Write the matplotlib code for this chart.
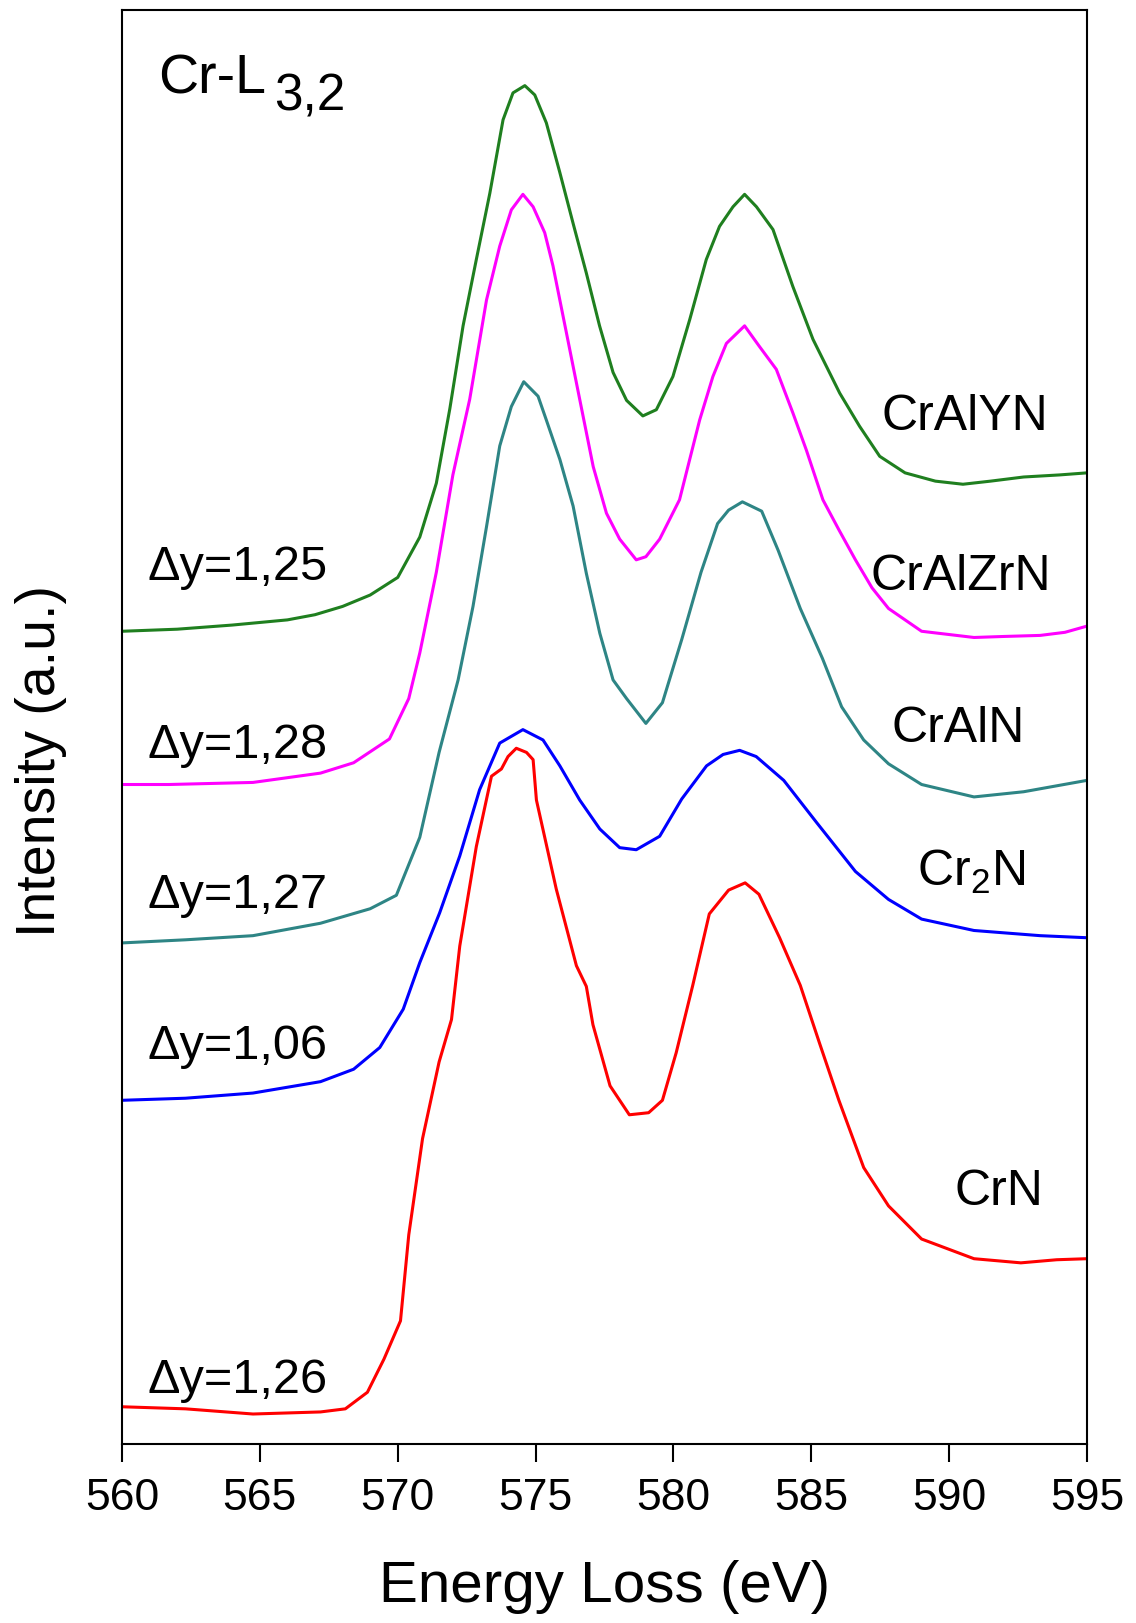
import matplotlib
matplotlib.use('Agg')
import matplotlib.pyplot as plt

plt.rcParams['font.family'] = ['Liberation Sans', 'DejaVu Sans']
plt.rcParams['mathtext.fontset'] = 'custom'
plt.rcParams['mathtext.rm'] = 'Liberation Sans'

# Spectra (energy in eV, stacked intensity in a.u.)
e_cralyn = [560, 562, 564, 566, 567, 568, 569, 570, 570.8, 571.4, 571.89, 572.37, 572.85, 573.34,
            573.82, 574.18, 574.61, 574.97, 575.39, 575.88, 576.36, 576.84, 577.32, 577.81, 578.3,
            578.89, 579.38, 579.98, 580.59, 581.19, 581.67, 582.16, 582.58, 583.01, 583.61, 584.33,
            585.06, 586.03, 586.75, 587.48, 588.4, 589.5, 590.5, 591.5, 592.7, 594, 595]
i_cralyn = [7.85, 7.87, 7.91, 7.96, 8.01, 8.09, 8.20, 8.37, 8.76, 9.28, 10.0, 10.80, 11.44, 12.08,
            12.79, 13.05, 13.12, 13.03, 12.76, 12.28, 11.79, 11.31, 10.80, 10.35, 10.08,
            9.93, 9.99, 10.31, 10.86, 11.44, 11.76, 11.95, 12.07, 11.95, 11.73, 11.18,
            10.67, 10.15, 9.83, 9.54, 9.38, 9.30, 9.27, 9.30, 9.34, 9.36, 9.38]

e_cralzrn = [560, 561.7, 564.75, 567.2, 568.4, 569.7, 570.4, 570.8, 571.4, 572.0, 572.61, 573.22,
             573.7, 574.12, 574.54, 574.91, 575.33, 575.63, 576.12, 576.6, 577.09, 577.57, 578.05,
             578.65, 579.0, 579.5, 580.22, 580.95, 581.43, 581.92, 582.58, 583.12, 583.73, 584.33,
             584.82, 585.42, 586.0, 586.6, 587.2, 587.8, 589.0, 590.9, 592.0, 593.3, 594.2, 595]
i_cralzrn = [6.37, 6.37, 6.39, 6.48, 6.58, 6.81, 7.20, 7.64, 8.42, 9.36, 10.09, 11.05,
             11.57, 11.92, 12.07, 11.95, 11.70, 11.38, 10.73, 10.09, 9.44, 8.99, 8.74,
             8.54, 8.57, 8.74, 9.12, 9.89, 10.31, 10.63, 10.80, 10.60, 10.38, 9.96,
             9.60, 9.12, 8.83, 8.54, 8.27, 8.07, 7.85, 7.79, 7.80, 7.81, 7.84, 7.90]

e_craln = [560, 562.3, 564.75, 567.2, 569.0, 569.95, 570.8, 571.5, 572.19, 572.73, 573.22, 573.7,
           574.12, 574.57, 575.09, 575.39, 575.88, 576.36, 576.84, 577.33, 577.81, 578.3, 579.0,
           579.6, 580.3, 581.0, 581.6, 582.0, 582.5, 583.2, 583.8, 584.6, 585.4, 586.1, 586.9,
           587.8, 589.0, 590.9, 592.7, 595]
i_craln = [4.84, 4.87, 4.91, 5.03, 5.17, 5.30, 5.86, 6.68, 7.38, 8.09, 8.86, 9.64,
           10.02, 10.26, 10.12, 9.89, 9.51, 9.06, 8.41, 7.83, 7.38, 7.20, 6.96,
           7.16, 7.77, 8.42, 8.89, 9.02, 9.10, 9.01, 8.63, 8.07, 7.59, 7.12, 6.80,
           6.57, 6.37, 6.25, 6.30, 6.41]

e_cr2n = [560, 562.3, 564.75, 567.2, 568.4, 569.35, 570.2, 570.8, 571.52, 572.25, 572.97, 573.7,
          574.54, 575.27, 575.88, 576.6, 577.33, 578.05, 578.65, 579.5, 580.3, 581.2, 581.8, 582.4,
          583.0, 584.0, 585.2, 586.6, 587.8, 589.0, 590.9, 593.3, 595]
i_cr2n = [3.32, 3.34, 3.39, 3.50, 3.62, 3.83, 4.20, 4.65, 5.13, 5.68, 6.32, 6.77,
          6.90, 6.80, 6.55, 6.22, 5.94, 5.76, 5.74, 5.87, 6.23, 6.55, 6.66, 6.70,
          6.64, 6.41, 6.00, 5.53, 5.26, 5.07, 4.96, 4.91, 4.89]

e_crn = [560, 562.3, 564.75, 567.2, 568.1, 568.9, 569.5, 570.1, 570.4, 570.9, 571.5, 571.95,
         572.25, 572.85, 573.4, 573.76, 574.0, 574.3, 574.67, 574.91, 575.03, 575.75, 576.48,
         576.84, 577.08, 577.7, 578.4, 579.1, 579.6, 580.1, 580.7, 581.3, 582.0, 582.6, 583.1,
         583.85, 584.6, 585.3, 586.0, 586.9, 587.8, 589.0, 590.9, 592.6, 593.9, 595]
i_crn = [0.36, 0.34, 0.29, 0.31, 0.34, 0.50, 0.82, 1.19, 2.02, 2.95, 3.69, 4.10,
         4.81, 5.77, 6.45, 6.52, 6.64, 6.72, 6.68, 6.61, 6.22, 5.36, 4.62,
         4.42, 4.05, 3.46, 3.18, 3.20, 3.32, 3.78, 4.43, 5.12, 5.35, 5.42, 5.31,
         4.89, 4.43, 3.87, 3.32, 2.67, 2.30, 1.98, 1.79, 1.75, 1.78, 1.79]

names = ['CrAlYN', 'CrAlZrN', 'CrAlN', r'Cr$_\mathregular{2}$N', 'CrN']
shifts = ['\u0394y=1,25', '\u0394y=1,28', '\u0394y=1,27', '\u0394y=1,06', '\u0394y=1,26']
colors = ['#1f7f1f', '#ff00ff', '#2e8585', '#0000ff', '#ff0000']

energies = [e_cralyn, e_cralzrn, e_craln, e_cr2n, e_crn]
intens = [i_cralyn, i_cralzrn, i_craln, i_cr2n, i_crn]

# label spots (x in eV, baseline in a.u.)
name_x = [590.57, 590.43, 590.34, 590.8, 591.8]
name_y = [9.80, 8.26, 6.79, 5.40, 2.32]
shift_y = [8.35, 6.64, 5.19, 3.73, 0.50]

fig = plt.figure(figsize=(11.36, 16.24), dpi=100)
ax = fig.add_axes([0.1074, 0.1102, 0.8495, 0.8830])

for e, y, c in zip(energies, intens, colors):
    ax.plot(e, y, color=c, lw=2.2)

for n, x, y in zip(names, name_x, name_y):
    ax.text(x, y, n, fontsize=36, ha='center', va='baseline')
for s, y in zip(shifts, shift_y):
    ax.text(560.94, y, s, fontsize=35, ha='left', va='baseline')

# Cr-L3,2 with a large subscript
ax.text(561.3, 13.05, 'Cr-L', fontsize=40, ha='left', va='baseline')
ax.text(565.5, 12.89, '3,2', fontsize=37, ha='left', va='baseline')

ax.set_xlim(560, 595)
ax.set_ylim(0, 13.85)
ax.set_xticks(range(560, 596, 5))
ax.set_yticks([])
ax.tick_params(axis='x', direction='out', length=13, width=1.5, pad=11, labelsize=32)
for sp in ax.spines.values():
    sp.set_linewidth(1.5)

fig.text(605 / 1136, 1 - 1587 / 1624, 'Energy Loss (eV)', fontsize=42, ha='center', va='center')
fig.text(41 / 1136, 1 - 761 / 1624, 'Intensity (a.u.)', fontsize=40, rotation=90,
         ha='center', va='center')

fig.savefig('out.png', dpi=100)
